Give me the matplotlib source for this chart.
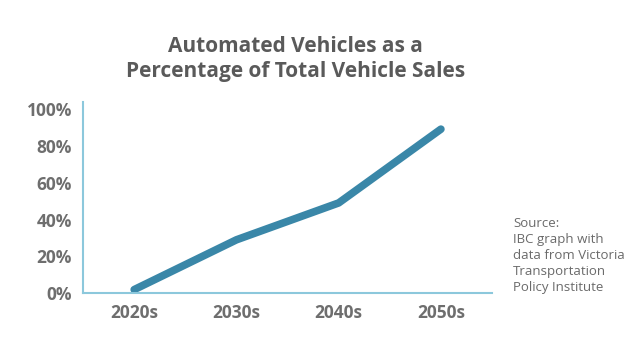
import matplotlib.pyplot as plt
from matplotlib.ticker import PercentFormatter

decades = ['2020s', '2030s', '2040s', '2050s']
share = [2, 29, 49, 89]
y_ticks = [0, 20, 40, 60, 80, 100]

line_color = '#3a87a8'
axis_color = '#8cc8dc'
text_color = '#6e6e6e'

plt.rcParams['font.family'] = ['Open Sans', 'DejaVu Sans']

fig = plt.figure(figsize=(6.39, 3.5), dpi=100)
ax = fig.add_axes([0.130, 0.162, 0.640, 0.547])

ax.plot(range(len(decades)), share, color=line_color, linewidth=5.5,
        solid_capstyle='round', solid_joinstyle='round')

ax.set_xlim(-0.5, 3.5)
ax.set_ylim(0, 103.8)
ax.set_xticks(range(len(decades)))
ax.set_xticklabels(decades)
ax.set_yticks(y_ticks)
ax.yaxis.set_major_formatter(PercentFormatter(decimals=0))

for s in ['top', 'right']:
    ax.spines[s].set_visible(False)
for s in ['left', 'bottom']:
    ax.spines[s].set_color(axis_color)
    ax.spines[s].set_linewidth(1.5)

ax.tick_params(length=0, labelsize=12.5, labelcolor=text_color, pad=8)
for lbl in ax.get_xticklabels() + ax.get_yticklabels():
    lbl.set_fontweight('bold')

fig.text(0.463, 0.83, 'Automated Vehicles as a\nPercentage of Total Vehicle Sales',
         ha='center', va='center', fontsize=15, fontweight='bold',
         color='#5a5a5a', linespacing=1.25)

fig.text(0.803, 0.271, 'Source:\nIBC graph with\ndata from Victoria\nTransportation\nPolicy Institute',
         ha='left', va='center', fontsize=9.5, color='#6a6a6a', linespacing=1.3)

fig.savefig('out.png', dpi=100)
